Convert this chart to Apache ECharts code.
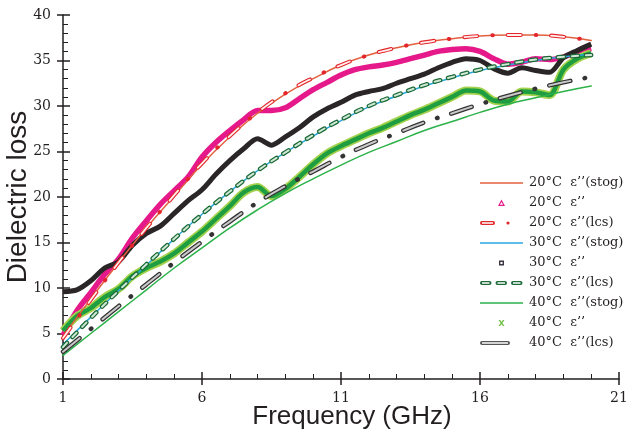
<!DOCTYPE html>
<html>
<head>
<meta charset="utf-8">
<script src="https://cdn.jsdelivr.net/npm/echarts@6/dist/echarts.min.js"></script>
<style>
  html, body { margin: 0; padding: 0; background: #fff; }
  #chart { width: 626px; height: 430px; }
</style>
</head>
<body>
<div id="chart"></div>
<script>
// fitted curves (stog / lcs), one point per GHz
var freqFit = [1, 2, 3, 4, 5, 6, 7, 8, 9, 10, 11, 12, 13, 14, 15, 16, 17, 18, 19, 20];
var stog20 = [4.7, 8.8, 12.8, 16.6, 20.1, 23.6, 26.6, 29.2, 31.3, 33.0, 34.5, 35.6, 36.4, 37.0, 37.4, 37.7, 37.8, 37.8, 37.6, 37.2];
var lcs20  = [4.5, 8.7, 12.8, 16.6, 20.2, 23.7, 26.7, 29.3, 31.4, 33.1, 34.5, 35.6, 36.4, 37.0, 37.4, 37.7, 37.8, 37.8, 37.6, 37.2];
var stog30 = [3.8, 6.8, 9.7, 12.5, 15.4, 18.1, 20.6, 22.9, 24.9, 26.7, 28.4, 29.9, 31.1, 32.2, 33.1, 33.9, 34.5, 35.0, 35.4, 35.7];
var lcs30  = [3.5, 6.7, 9.7, 12.6, 15.4, 18.1, 20.6, 22.9, 24.9, 26.8, 28.5, 30.0, 31.2, 32.3, 33.2, 34.0, 34.6, 35.1, 35.4, 35.6];
var stog40 = [2.6, 5.0, 7.4, 9.8, 12.2, 14.4, 16.6, 18.6, 20.4, 22.0, 23.5, 24.9, 26.1, 27.3, 28.3, 29.3, 30.2, 30.9, 31.6, 32.2];
var lcs40  = [3.0, 5.5, 8.0, 10.4, 12.8, 15.1, 17.3, 19.4, 21.2, 22.8, 24.4, 25.8, 27.0, 28.2, 29.2, 30.2, 31.1, 31.9, 32.6, 33.2];

// measured e'' , every 0.5 GHz
var freqMeas = [1, 1.5, 2, 2.5, 3, 3.5, 4, 4.5, 5, 5.5, 6, 6.5, 7, 7.5, 8, 8.5, 9, 9.5, 10, 10.5,
                11, 11.5, 12, 12.5, 13, 13.5, 14, 14.5, 15, 15.5, 16, 16.5, 17, 17.5, 18, 18.5, 19, 19.5, 20];
var meas20 = [4.8, 7.5, 9.5, 11.5, 13.2, 15.5, 17.4, 19.2, 20.7, 22.2, 24.4, 26.0, 27.3, 28.5, 29.5, 29.5, 29.8, 30.8, 31.8, 32.6,
              33.4, 34.0, 34.3, 34.5, 34.8, 35.2, 35.6, 36.0, 36.2, 36.3, 36.0, 35.2, 34.6, 34.8, 35.2, 35.1, 35.4, 35.9, 36.3];
var meas30 = [9.6, 9.8, 10.8, 12.2, 12.9, 14.7, 16.0, 16.8, 18.2, 19.6, 20.8, 22.5, 24.0, 25.3, 26.4, 25.7, 26.6, 27.6, 28.8, 29.7,
              30.4, 31.2, 31.6, 31.9, 32.5, 33.0, 33.5, 34.2, 34.8, 35.2, 35.0, 34.1, 33.6, 34.2, 33.9, 33.7, 35.3, 36.1, 36.8];
var meas40 = [5.3, 6.9, 7.8, 9.0, 9.9, 11.3, 12.2, 12.9, 13.8, 15.0, 16.2, 17.6, 19.0, 20.5, 21.1, 20.1, 20.9, 22.2, 23.6, 24.8,
              25.6, 26.3, 27.0, 27.6, 28.3, 29.0, 29.6, 30.3, 31.0, 31.7, 31.6, 30.6, 30.5, 31.6, 31.5, 31.2, 34.0, 35.2, 35.8];

var names = ['20°C  ε’’(stog)', '20°C  ε’’', '20°C  ε’’(lcs)',
             '30°C  ε’’(stog)', '30°C  ε’’', '30°C  ε’’(lcs)',
             '40°C  ε’’(stog)', '40°C  ε’’', '40°C  ε’’(lcs)'];

var pair = function (xs, ys) {
  return xs.map(function (x, i) { return [x, ys[i]]; });
};

// legend icons, all drawn in a 45x8 box
var box = 'path://M0,0 M45,8 ';
var iconLine = box + 'M1,3.2 L44,3.2 L44,4.8 L1,4.8 Z';
var iconTri = box + 'M22.5,0.6 L26,7 L19,7 Z M22.5,3 L20.9,5.8 L24.1,5.8 Z';
var iconSq = box + 'M20,1.5 L25,1.5 L25,6.5 L20,6.5 Z M21.4,2.9 L21.4,5.1 L23.6,5.1 L23.6,2.9 Z';
var iconX = box + 'M19.5,1 L21.2,1 L22.5,3 L23.8,1 L25.5,1 L23.4,4 L25.5,7 L23.8,7 L22.5,5 L21.2,7 L19.5,7 L21.6,4 Z';
var hollowDash = function (a, b) {
  return 'M' + (a + 2) + ',2 L' + (b - 2) + ',2 Q' + b + ',2 ' + b + ',4 Q' + b + ',6 ' + (b - 2) + ',6 L' + (a + 2) + ',6 Q' + a + ',6 ' + a + ',4 Q' + a + ',2 ' + (a + 2) + ',2 Z ' +
         'M' + (a + 2) + ',3.2 L' + (a + 2) + ',4.8 L' + (b - 2) + ',4.8 L' + (b - 2) + ',3.2 Z ';
};
var dot = 'M27.4,4 Q27.4,2.4 29,2.4 Q30.6,2.4 30.6,4 Q30.6,5.6 29,5.6 Q27.4,5.6 27.4,4 Z';
var iconLcs20 = box + hollowDash(1, 16) + dot;
var iconLcs30 = box + hollowDash(1, 12.5) + hollowDash(16.5, 28) + hollowDash(32, 43.5);
var iconLcs40 = box + hollowDash(1, 31);

var fitLine = function (name, data, color, width, dash) {
  return {
    name: name, type: 'line', data: data, smooth: true, symbol: 'none',
    color: color, silent: true,
    lineStyle: { color: color, width: width, type: dash || 'solid', cap: 'round' }
  };
};
var measLine = function (name, data, color, width) {
  return {
    name: name, type: 'line', data: data, smooth: 0.3, symbol: 'none',
    color: color, silent: true,
    lineStyle: { color: color, width: width, join: 'round' }
  };
};

var chart = echarts.init(document.getElementById('chart'));
var ink = '#231f20';
var serif = 'DejaVu Serif';

chart.setOption({
  animation: false,
  grid: { left: 63, right: 7, top: 15, bottom: 51, outerBoundsMode: 'none' },
  legend: {
    orient: 'vertical', left: 474, top: 171, align: 'left',
    itemWidth: 45, itemHeight: 8, itemGap: 6, selectedMode: false,
    itemStyle: { borderWidth: 0 },
    textStyle: { fontFamily: serif, fontSize: 13, color: ink, lineHeight: 14 },
    data: [
      { name: names[0], icon: iconLine },
      { name: names[1], icon: iconTri },
      { name: names[2], icon: iconLcs20 },
      { name: names[3], icon: iconLine },
      { name: names[4], icon: iconSq, itemStyle: { color: '#3a3440' } },
      { name: names[5], icon: iconLcs30 },
      { name: names[6], icon: iconLine },
      { name: names[7], icon: iconX, itemStyle: { color: '#6fbe44' } },
      { name: names[8], icon: iconLcs40, itemStyle: { color: '#555' } }
    ]
  },
  xAxis: [{
    type: 'value', min: 1, max: 21, interval: 5, position: 'bottom',
    name: 'Frequency (GHz)', nameLocation: 'middle', nameGap: 25, nameMoveOverlap: false,
    nameTextStyle: { fontFamily: 'Liberation Sans', fontSize: 26, color: ink, verticalAlign: 'top', padding: [0, 0, 0, 22] },
    axisLine: { show: true, onZero: false, lineStyle: { color: ink, width: 1.5 } },
    axisTick: { show: true, inside: true, length: 7, lineStyle: { color: ink, width: 1.5 } },
    minorTick: { show: true, splitNumber: 5, length: 5, lineStyle: { color: ink, width: 1 } },
    axisLabel: { show: true, margin: 12, fontFamily: serif, fontSize: 14, color: ink },
    splitLine: { show: false }, minorSplitLine: { show: false }
  }, {
    type: 'value', min: 1, max: 21, interval: 5, position: 'bottom',
    axisLine: { show: false, onZero: false },
    axisTick: { show: true, inside: false, length: 6, lineStyle: { color: ink, width: 1.5 } },
    axisLabel: { show: false }, splitLine: { show: false }
  }],
  yAxis: [{
    type: 'value', min: 0, max: 40, interval: 5, position: 'left',
    name: 'Dielectric loss', nameLocation: 'middle', nameGap: 31, nameMoveOverlap: false,
    nameTextStyle: { fontFamily: 'Liberation Sans', fontSize: 28, color: ink },
    axisLine: { show: true, onZero: false, lineStyle: { color: ink, width: 1.5 } },
    axisTick: { show: true, inside: true, length: 7, lineStyle: { color: ink, width: 1.5 } },
    minorTick: { show: true, splitNumber: 5, length: 5, lineStyle: { color: ink, width: 1 } },
    axisLabel: { show: true, margin: 12, fontFamily: serif, fontSize: 14, color: ink },
    splitLine: { show: false }, minorSplitLine: { show: false }
  }, {
    type: 'value', min: 0, max: 40, interval: 5, position: 'left',
    axisLine: { show: false, onZero: false },
    axisTick: { show: true, inside: false, length: 6, lineStyle: { color: ink, width: 1.5 } },
    axisLabel: { show: false }, splitLine: { show: false }
  }],
  series: [
    // measured
    measLine(names[1], pair(freqMeas, meas20), '#e6198b', 5.5),
    measLine(names[4], pair(freqMeas, meas30), '#2a2526', 5),
    measLine(names[7], pair(freqMeas, meas40), '#a4d24c', 8),
    measLine('40 inner', pair(freqMeas, meas40), '#1e9e40', 4.5),
    // stog fits
    fitLine(names[0], pair(freqFit, stog20), '#e2603f', 1.5),
    fitLine(names[3], pair(freqFit, stog30), '#29a8e0', 1.5),
    fitLine(names[6], pair(freqFit, stog40), '#2cb24a', 1.5),
    // lcs fits: dark outline dash + light inner dash
    fitLine(names[2], pair(freqFit, lcs20), '#e3262b', 4, [13, 15, 0.5, 15]),
    fitLine('20 lcs inner', pair(freqFit, lcs20), '#fff0ee', 1.8, [13, 30.5]),
    fitLine(names[5], pair(freqFit, lcs30), '#1b6a37', 4.5, [6, 8]),
    fitLine('30 lcs inner', pair(freqFit, lcs30), '#cfe8d6', 2, [6, 8]),
    fitLine(names[8], pair(freqFit, lcs40), '#333', 4.5, [21.5, 14.5, 0.5, 14.5]),
    fitLine('40 lcs inner', pair(freqFit, lcs40), '#c9c9c9', 2, [21.5, 29.5])
  ]
});
</script>
</body>
</html>
